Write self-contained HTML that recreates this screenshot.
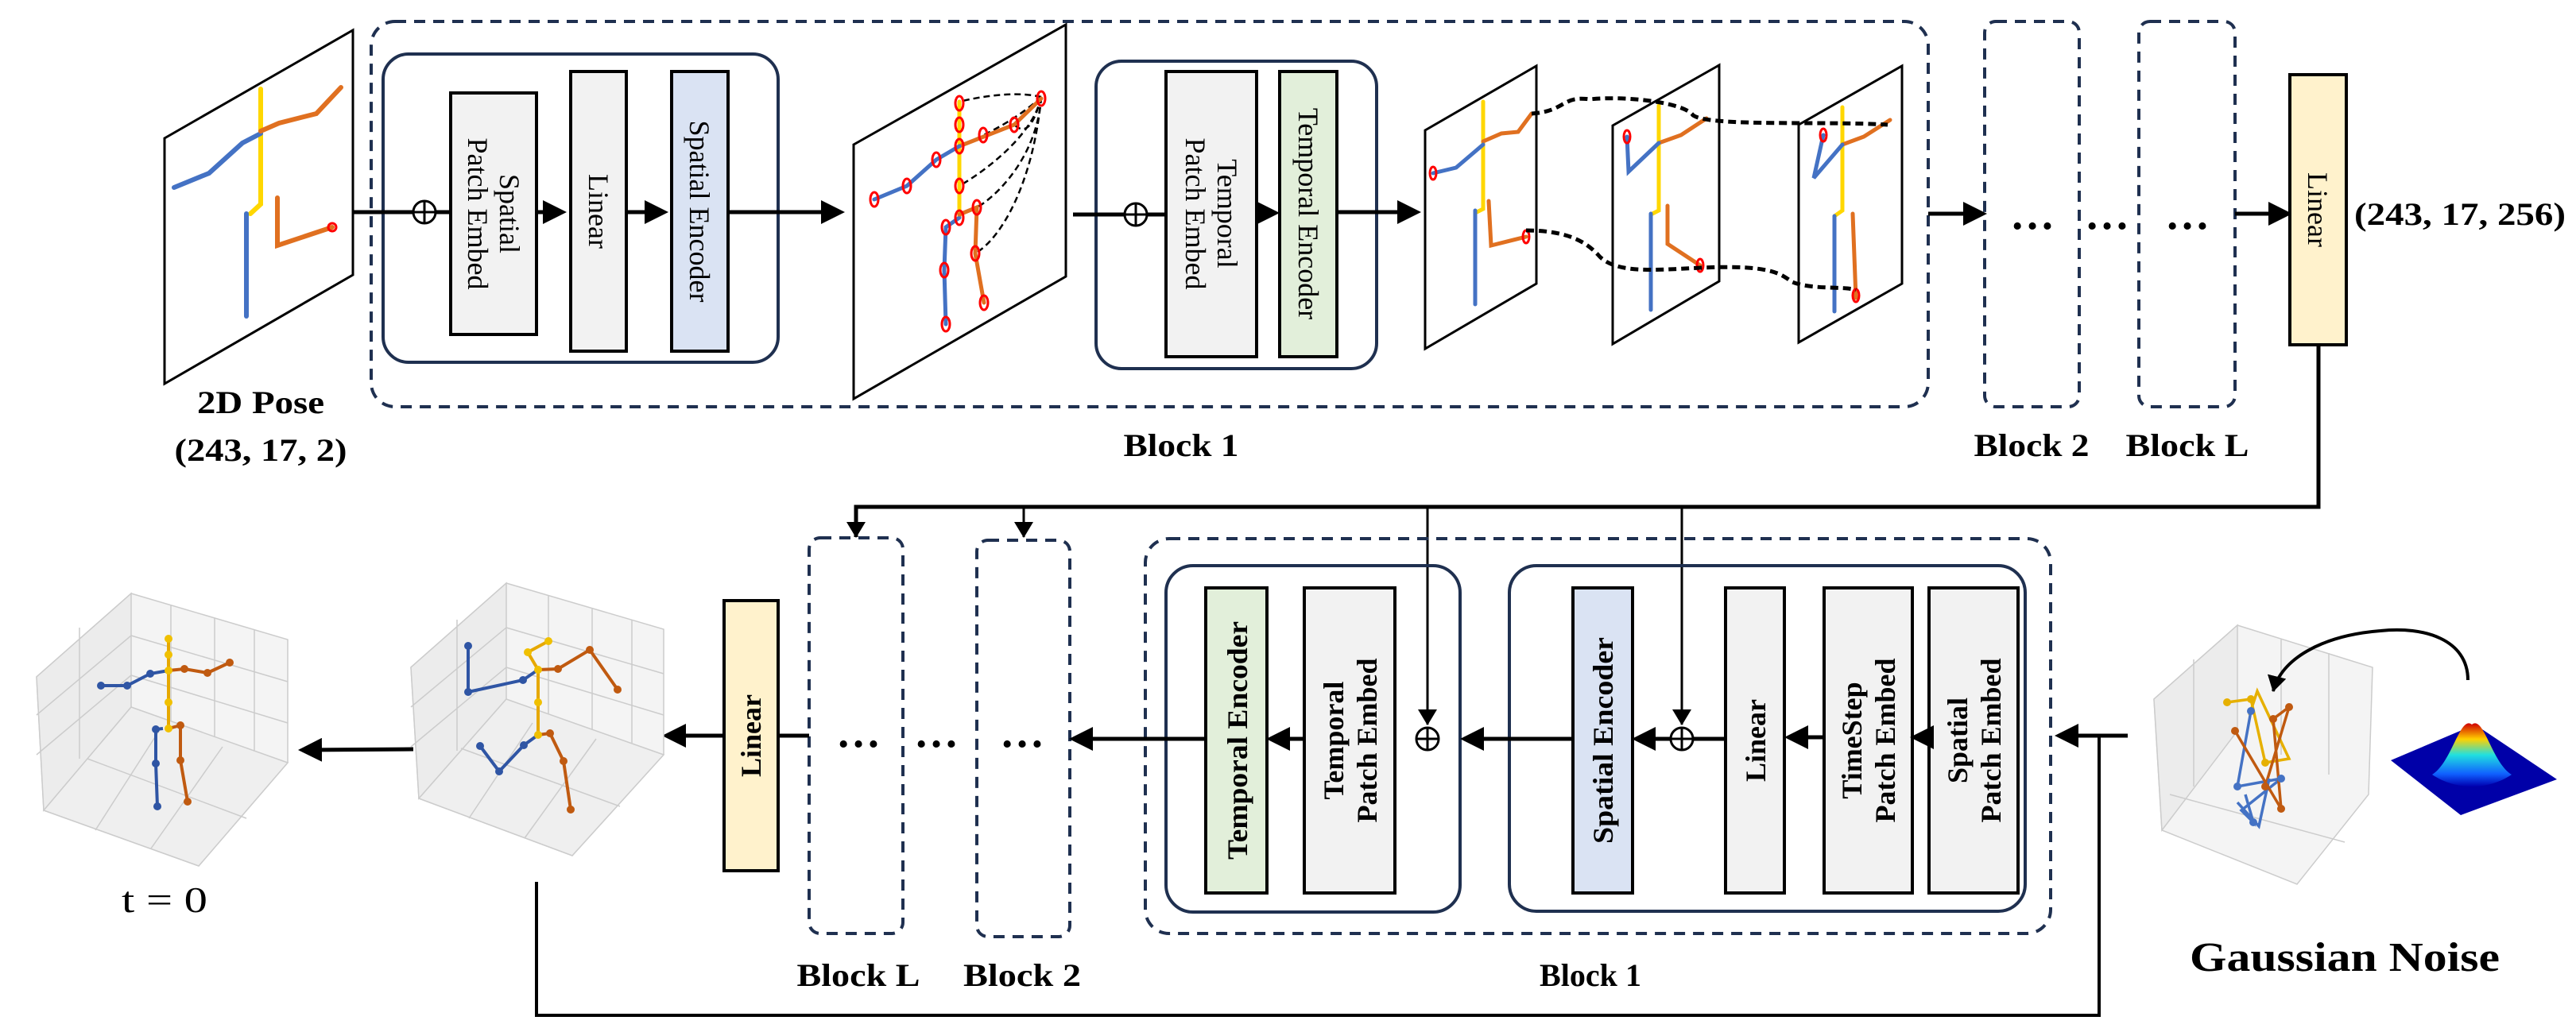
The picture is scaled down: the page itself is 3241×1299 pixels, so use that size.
<!DOCTYPE html>
<html><head><meta charset="utf-8"><style>
html,body{margin:0;padding:0;background:#fff;}
svg{display:block;}
text{font-family:"Liberation Serif",serif;}
</style></head><body>
<svg width="3241" height="1299" viewBox="0 0 3241 1299" xmlns="http://www.w3.org/2000/svg">
<defs>
<marker id="ah" markerWidth="6" markerHeight="6" refX="5" refY="3" orient="auto" markerUnits="strokeWidth">
<path d="M0,0 L6,3 L0,6 Z" fill="#000"/></marker>
<marker id="ahs" markerWidth="20" markerHeight="24" refX="19" refY="12" orient="auto" markerUnits="userSpaceOnUse">
<path d="M0,0 L20,12 L0,24 Z" fill="#000"/></marker>
<linearGradient id="gg" x1="0" y1="0" x2="0" y2="1">
<stop offset="0" stop-color="#d00000"/><stop offset="0.25" stop-color="#ffd000"/><stop offset="0.5" stop-color="#20e0e0"/><stop offset="0.8" stop-color="#1060ff"/><stop offset="1" stop-color="#0000b0"/></linearGradient>
</defs>

<!-- ===== TOP ROW ===== -->
<rect x="467" y="27" width="1959" height="485" rx="30" fill="none" stroke="#1f3050" stroke-width="4" stroke-dasharray="14 10"/>
<rect x="2497" y="27" width="119" height="485" rx="14" fill="none" stroke="#1f3050" stroke-width="4" stroke-dasharray="14 10"/>
<rect x="2691" y="27" width="121" height="485" rx="14" fill="none" stroke="#1f3050" stroke-width="4" stroke-dasharray="14 10"/>
<rect x="482" y="68" width="497" height="388" rx="32" fill="none" stroke="#1f3050" stroke-width="4"/>
<rect x="1379" y="77" width="353" height="387" rx="32" fill="none" stroke="#1f3050" stroke-width="4"/>

<polygon points="207,174 444,38 444,346 207,483" fill="#fff" stroke="#000" stroke-width="3"/>
<g stroke-linecap="round" fill="none" stroke-width="6">
<polyline points="328,112 328,257 315,269" stroke="#ffd700"/>
<polyline points="328,168 305,180 263,218 219,236" stroke="#4472c4"/>
<polyline points="328,165 351,155 398,143 429,110" stroke="#e07020"/>
<polyline points="310,269 310,398" stroke="#4472c4"/>
<polyline points="349,249 349,309 418,286" stroke="#e07020"/>
</g>
<circle cx="418" cy="286" r="5" fill="none" stroke="#f00" stroke-width="3"/>

<line x1="444" y1="267" x2="567" y2="267" stroke="#000" stroke-width="5"/>
<circle cx="534" cy="267" r="14" fill="#fff" stroke="#000" stroke-width="3"/>
<line x1="520" y1="267" x2="548" y2="267" stroke="#000" stroke-width="3"/>
<line x1="534" y1="253" x2="534" y2="281" stroke="#000" stroke-width="3"/>

<rect x="567" y="117" width="108" height="304" fill="#f2f2f2" stroke="#000" stroke-width="4"/>
<text transform="rotate(90 621 269)" x="621" y="269" text-anchor="middle" font-size="36"><tspan x="621" dy="-8">Spatial</tspan><tspan x="621" dy="40">Patch Embed</tspan></text>
<rect x="718" y="90" width="70" height="352" fill="#f2f2f2" stroke="#000" stroke-width="4"/>
<text transform="rotate(90 753 266)" x="753" y="278" text-anchor="middle" font-size="36">Linear</text>
<rect x="845" y="90" width="71" height="352" fill="#dae3f3" stroke="#000" stroke-width="4"/>
<text transform="rotate(90 880 266)" x="880" y="278" text-anchor="middle" font-size="36">Spatial Encoder</text>
<g stroke="#000" stroke-width="5">
<line x1="675" y1="267" x2="708" y2="267" marker-end="url(#ah)"/>
<line x1="788" y1="267" x2="836" y2="267" marker-end="url(#ah)"/>
<line x1="916" y1="267" x2="1058" y2="267" marker-end="url(#ah)"/>
</g>

<polygon points="1074,182 1341,31 1341,348 1074,502" fill="#fff" stroke="#000" stroke-width="3"/>
<g stroke="#000" stroke-width="2.5" fill="none" stroke-dasharray="8 5">
<path d="M1310,122 C1280,115 1240,120 1207,128"/>
<path d="M1310,122 C1280,150 1240,170 1207,184"/>
<path d="M1310,122 C1300,170 1240,215 1207,234"/>
<path d="M1310,122 C1305,200 1250,250 1229,261"/>
<path d="M1310,122 C1300,230 1260,300 1227,319"/>
<path d="M1310,122 C1300,160 1290,170 1276,157"/>
</g>
<g stroke-linecap="round" fill="none" stroke-width="5">
<polyline points="1207,128 1207,274" stroke="#ffd700"/>
<polyline points="1207,184 1276,157 1310,124" stroke="#e07020"/>
<polyline points="1207,184 1178,201 1141,234 1100,251" stroke="#4472c4"/>
<polyline points="1207,274 1190,286 1188,340 1190,408" stroke="#4472c4"/>
<polyline points="1207,270 1229,261 1227,319 1238,381" stroke="#e07020"/>
</g>
<g fill="none" stroke="#f00" stroke-width="3">
<ellipse cx="1207" cy="130" rx="5" ry="9"/><ellipse cx="1207" cy="157" rx="5" ry="9"/><ellipse cx="1207" cy="184" rx="5" ry="9"/><ellipse cx="1207" cy="234" rx="5" ry="9"/><ellipse cx="1207" cy="274" rx="5" ry="9"/>
<ellipse cx="1237" cy="170" rx="5" ry="9"/><ellipse cx="1276" cy="157" rx="5" ry="9"/><ellipse cx="1310" cy="124" rx="5" ry="9"/>
<ellipse cx="1178" cy="201" rx="5" ry="9"/><ellipse cx="1141" cy="234" rx="5" ry="9"/><ellipse cx="1100" cy="251" rx="5" ry="9"/>
<ellipse cx="1190" cy="286" rx="5" ry="9"/><ellipse cx="1188" cy="340" rx="5" ry="9"/><ellipse cx="1190" cy="408" rx="5" ry="9"/>
<ellipse cx="1229" cy="261" rx="5" ry="9"/><ellipse cx="1227" cy="319" rx="5" ry="9"/><ellipse cx="1238" cy="381" rx="5" ry="9"/>
</g>

<line x1="1350" y1="270" x2="1467" y2="270" stroke="#000" stroke-width="5"/>
<circle cx="1429" cy="270" r="14" fill="#fff" stroke="#000" stroke-width="3"/>
<line x1="1415" y1="270" x2="1443" y2="270" stroke="#000" stroke-width="3"/>
<line x1="1429" y1="256" x2="1429" y2="284" stroke="#000" stroke-width="3"/>
<rect x="1467" y="90" width="114" height="359" fill="#f2f2f2" stroke="#000" stroke-width="4"/>
<text transform="rotate(90 1524 269)" x="1524" y="269" text-anchor="middle" font-size="36"><tspan x="1524" dy="-8">Temporal</tspan><tspan x="1524" dy="40">Patch Embed</tspan></text>
<rect x="1610" y="90" width="72" height="359" fill="#e2efda" stroke="#000" stroke-width="4"/>
<text transform="rotate(90 1646 269)" x="1646" y="281" text-anchor="middle" font-size="36">Temporal Encoder</text>
<g stroke="#000" stroke-width="5">
<line x1="1581" y1="268" x2="1605" y2="268" marker-end="url(#ah)"/>
<line x1="1682" y1="267" x2="1783" y2="267" marker-end="url(#ah)"/>
</g>

<polygon points="1793,164 1933,83 1933,357 1793,439" fill="#fff" stroke="#000" stroke-width="3"/>
<polygon points="2029,158 2163,82 2163,354 2029,433" fill="#fff" stroke="#000" stroke-width="3"/>
<polygon points="2263,157 2393,83 2393,357 2263,431" fill="#fff" stroke="#000" stroke-width="3"/>
<g stroke-linecap="round" fill="none" stroke-width="5">
<polyline points="1866,128 1866,263 1856,268" stroke="#ffd700"/>
<polyline points="1866,178 1889,168 1910,166 1927,143" stroke="#e07020"/>
<polyline points="1866,182 1832,211 1803,218" stroke="#4472c4"/>
<polyline points="1856,265 1856,383" stroke="#4472c4"/>
<polyline points="1873,253 1876,309 1920,298" stroke="#e07020"/>
<polyline points="2087,133 2087,265 2077,270" stroke="#ffd700"/>
<polyline points="2087,180 2115,170 2147,149" stroke="#e07020"/>
<polyline points="2087,180 2049,216 2047,172" stroke="#4472c4"/>
<polyline points="2077,269 2077,390" stroke="#4472c4"/>
<polyline points="2098,259 2098,307 2139,334" stroke="#e07020"/>
<polyline points="2318,135 2318,265 2308,272" stroke="#ffd700"/>
<polyline points="2318,182 2345,172 2378,151" stroke="#e07020"/>
<polyline points="2318,182 2282,224 2294,170" stroke="#4472c4"/>
<polyline points="2308,272 2308,392" stroke="#4472c4"/>
<polyline points="2331,269 2335,375" stroke="#e07020"/>
</g>
<g fill="none" stroke="#f00" stroke-width="3">
<ellipse cx="1803" cy="218" rx="4" ry="8"/><ellipse cx="1920" cy="298" rx="4" ry="8"/>
<ellipse cx="2047" cy="172" rx="4" ry="8"/><ellipse cx="2139" cy="334" rx="4" ry="8"/>
<ellipse cx="2294" cy="170" rx="4" ry="8"/><ellipse cx="2335" cy="372" rx="4" ry="8"/>
</g>
<g stroke="#000" stroke-width="5" fill="none" stroke-dasharray="10 6">
<path d="M1927,143 C1970,140 1965,120 2000,125 C2050,120 2120,130 2130,145 C2150,160 2300,152 2375,157"/>
<path d="M1920,290 C1980,290 2000,310 2010,320 C2030,345 2080,340 2140,337 C2230,333 2240,345 2255,355 C2280,365 2320,360 2335,365"/>
</g>

<g stroke="#000" stroke-width="5">
<line x1="2426" y1="269" x2="2495" y2="269" marker-end="url(#ah)"/>
<line x1="2812" y1="269" x2="2879" y2="269" marker-end="url(#ah)"/>
</g>
<g font-size="56" font-weight="bold" text-anchor="middle">
<text x="2557" y="288">…</text><text x="2651" y="288">…</text><text x="2752" y="288">…</text>
</g>
<rect x="2881" y="94" width="71" height="340" fill="#fff2cc" stroke="#000" stroke-width="4"/>
<text transform="rotate(90 2916 264)" x="2916" y="276" text-anchor="middle" font-size="36">Linear</text>
<text x="2962" y="283" font-size="40" font-weight="bold" textLength="266" lengthAdjust="spacingAndGlyphs">(243, 17, 256)</text>

<g font-weight="bold" font-size="40" text-anchor="middle">
<text x="328" y="520" textLength="160" lengthAdjust="spacingAndGlyphs">2D Pose</text>
<text x="328" y="580" textLength="217" lengthAdjust="spacingAndGlyphs">(243, 17, 2)</text>
<text x="1486" y="574" textLength="145" lengthAdjust="spacingAndGlyphs">Block 1</text>
<text x="2556" y="574" textLength="145" lengthAdjust="spacingAndGlyphs">Block 2</text>
<text x="2752" y="574" textLength="155" lengthAdjust="spacingAndGlyphs">Block L</text>
</g>

<g stroke="#000" fill="none">
<polyline points="2917,434 2917,638 1077,638 1077,676" stroke-width="5" marker-end="url(#ahs)"/>
<line x1="1288" y1="638" x2="1288" y2="676" stroke-width="3" marker-end="url(#ahs)"/>
<line x1="1796" y1="638" x2="1796" y2="912" stroke-width="3" marker-end="url(#ahs)"/>
<line x1="2116" y1="638" x2="2116" y2="912" stroke-width="3" marker-end="url(#ahs)"/>
</g>

<!-- ===== BOTTOM ROW ===== -->
<rect x="1441" y="678" width="1139" height="497" rx="30" fill="none" stroke="#1f3050" stroke-width="4" stroke-dasharray="14 10"/>
<rect x="1018" y="677" width="118" height="498" rx="14" fill="none" stroke="#1f3050" stroke-width="4" stroke-dasharray="14 10"/>
<rect x="1229" y="680" width="117" height="499" rx="14" fill="none" stroke="#1f3050" stroke-width="4" stroke-dasharray="14 10"/>
<rect x="1467" y="712" width="370" height="436" rx="34" fill="none" stroke="#1f3050" stroke-width="4"/>
<rect x="1899" y="712" width="649" height="435" rx="34" fill="none" stroke="#1f3050" stroke-width="4"/>

<g font-weight="bold" font-size="36">
<rect x="1517" y="740" width="77" height="384" fill="#e2efda" stroke="#000" stroke-width="4"/>
<text transform="rotate(-90 1556 932)" x="1556" y="945" text-anchor="middle" textLength="300" lengthAdjust="spacingAndGlyphs">Temporal Encoder</text>
<rect x="1641" y="740" width="114" height="384" fill="#f2f2f2" stroke="#000" stroke-width="4"/>
<text transform="rotate(-90 1698 932)" x="1698" y="932" text-anchor="middle"><tspan x="1698" dy="-8">Temporal</tspan><tspan x="1698" dy="42">Patch Embed</tspan></text>
<rect x="1979" y="740" width="75" height="384" fill="#dae3f3" stroke="#000" stroke-width="4"/>
<text transform="rotate(-90 2016 932)" x="2016" y="945" text-anchor="middle" textLength="260" lengthAdjust="spacingAndGlyphs">Spatial Encoder</text>
<rect x="2171" y="740" width="74" height="384" fill="#f2f2f2" stroke="#000" stroke-width="4"/>
<text transform="rotate(-90 2208 932)" x="2208" y="945" text-anchor="middle">Linear</text>
<rect x="2295" y="740" width="111" height="384" fill="#f2f2f2" stroke="#000" stroke-width="4"/>
<text transform="rotate(-90 2350 932)" x="2350" y="932" text-anchor="middle"><tspan x="2350" dy="-8">TimeStep</tspan><tspan x="2350" dy="42">Patch Embed</tspan></text>
<rect x="2427" y="740" width="112" height="384" fill="#f2f2f2" stroke="#000" stroke-width="4"/>
<text transform="rotate(-90 2483 932)" x="2483" y="932" text-anchor="middle"><tspan x="2483" dy="-8">Spatial</tspan><tspan x="2483" dy="42">Patch Embed</tspan></text>
</g>

<g stroke="#000" stroke-width="5" fill="none">
<line x1="2677" y1="926" x2="2590" y2="926" marker-end="url(#ah)"/>
<line x1="2427" y1="928" x2="2408" y2="928" marker-end="url(#ah)"/>
<line x1="2295" y1="928" x2="2250" y2="928" marker-end="url(#ah)"/>
<line x1="2171" y1="930" x2="2058" y2="930" marker-end="url(#ah)"/>
<line x1="1979" y1="930" x2="1842" y2="930" marker-end="url(#ah)"/>
<line x1="1641" y1="930" x2="1598" y2="930" marker-end="url(#ah)"/>
<line x1="1517" y1="930" x2="1350" y2="930" marker-end="url(#ah)"/>
<line x1="979" y1="926" x2="1018" y2="926"/>
<line x1="911" y1="926" x2="838" y2="926" marker-end="url(#ah)"/>
<line x1="520" y1="943" x2="380" y2="944" marker-end="url(#ah)"/>
<polyline points="675,1110 675,1278 2641,1278 2641,926" stroke-width="4"/>
</g>
<g fill="#fff" stroke="#000" stroke-width="3">
<circle cx="1796" cy="930" r="14"/><circle cx="2116" cy="930" r="14"/>
</g>
<g stroke="#000" stroke-width="3">
<line x1="1782" y1="930" x2="1810" y2="930"/><line x1="1796" y1="916" x2="1796" y2="944"/>
<line x1="2102" y1="930" x2="2130" y2="930"/><line x1="2116" y1="916" x2="2116" y2="944"/>
</g>
<g font-size="56" font-weight="bold" text-anchor="middle">
<text x="1080" y="940">…</text><text x="1178" y="940">…</text><text x="1286" y="940">…</text>
</g>
<rect x="911" y="756" width="68" height="340" fill="#fff2cc" stroke="#000" stroke-width="4"/>
<text transform="rotate(-90 945 926)" x="945" y="938" text-anchor="middle" font-size="36" font-weight="bold">Linear</text>

<g stroke="#ccc" stroke-width="1.5">
<polygon points="165,747 362,805 362,960 250,1090 55,1020 46,852" fill="#f4f4f4"/>
<polygon points="165,747 165,890 55,1020 46,852" fill="#ececec"/>
<polygon points="165,890 362,960 250,1090 55,1020" fill="#efefef"/>
<line x1="100" y1="790" x2="100" y2="955"/><line x1="215" y1="762" x2="215" y2="908"/><line x1="270" y1="778" x2="270" y2="928"/><line x1="320" y1="793" x2="320" y2="945"/>
<line x1="46" y1="900" x2="165" y2="800"/><line x1="46" y1="950" x2="165" y2="850"/>
<line x1="165" y1="800" x2="362" y2="858"/><line x1="165" y1="850" x2="362" y2="910"/>
<line x1="110" y1="955" x2="310" y2="1030"/><line x1="200" y1="920" x2="120" y2="1045"/><line x1="280" y1="940" x2="190" y2="1068"/>
</g>
<g stroke-width="4" fill="none">
<polyline points="212,804 212,917" stroke="#e6a800"/>
<polyline points="212,844 189,848 160,863 127,863" stroke="#2f55a4"/>
<polyline points="212,844 232,842 261,847 289,834" stroke="#c05a10"/>
<polyline points="205,917 196,918 196,961 198,1015" stroke="#2f55a4"/>
<polyline points="212,917 227,913 227,957 236,1009" stroke="#c05a10"/>
</g>
<g fill="#f0c000"><circle cx="212" cy="804" r="5"/><circle cx="212" cy="824" r="5"/><circle cx="212" cy="844" r="5"/><circle cx="212" cy="884" r="5"/><circle cx="212" cy="917" r="5"/></g>
<g fill="#2f55a4"><circle cx="189" cy="848" r="5"/><circle cx="160" cy="863" r="5"/><circle cx="127" cy="863" r="5"/><circle cx="196" cy="918" r="5"/><circle cx="196" cy="961" r="5"/><circle cx="198" cy="1015" r="5"/></g>
<g fill="#c05a10"><circle cx="232" cy="842" r="5"/><circle cx="261" cy="847" r="5"/><circle cx="289" cy="834" r="5"/><circle cx="227" cy="913" r="5"/><circle cx="227" cy="957" r="5"/><circle cx="236" cy="1009" r="5"/></g>
<text x="207" y="1148" text-anchor="middle" font-size="46" textLength="108" lengthAdjust="spacingAndGlyphs">t = 0</text>

<g stroke="#ccc" stroke-width="1.5">
<polygon points="637,734 835,792 835,950 720,1077 527,1005 517,840" fill="#f4f4f4"/>
<polygon points="637,734 637,880 527,1005 517,840" fill="#ececec"/>
<polygon points="637,880 835,950 720,1077 527,1005" fill="#efefef"/>
<line x1="575" y1="780" x2="575" y2="945"/><line x1="690" y1="750" x2="690" y2="898"/><line x1="745" y1="765" x2="745" y2="918"/><line x1="795" y1="780" x2="795" y2="935"/>
<line x1="517" y1="890" x2="637" y2="790"/><line x1="517" y1="940" x2="637" y2="840"/>
<line x1="637" y1="790" x2="835" y2="848"/><line x1="637" y1="840" x2="835" y2="900"/>
<line x1="580" y1="942" x2="780" y2="1015"/><line x1="670" y1="910" x2="590" y2="1030"/><line x1="750" y1="930" x2="660" y2="1055"/>
</g>
<g stroke-width="4" fill="none">
<polyline points="690,807 664,821 677,843 677,925" stroke="#e6a800"/>
<polyline points="677,843 658,856 589,871 589,813" stroke="#2f55a4"/>
<polyline points="677,843 702,842 742,818 777,868" stroke="#c05a10"/>
<polyline points="677,925 659,938 628,971 604,939" stroke="#2f55a4"/>
<polyline points="677,925 692,923 709,958 718,1019" stroke="#c05a10"/>
</g>
<g fill="#f0c000"><circle cx="690" cy="807" r="5"/><circle cx="664" cy="821" r="5"/><circle cx="677" cy="843" r="5"/><circle cx="677" cy="884" r="5"/><circle cx="677" cy="925" r="5"/></g>
<g fill="#2f55a4"><circle cx="658" cy="856" r="5"/><circle cx="589" cy="871" r="5"/><circle cx="589" cy="813" r="5"/><circle cx="659" cy="938" r="5"/><circle cx="628" cy="971" r="5"/><circle cx="604" cy="939" r="5"/></g>
<g fill="#c05a10"><circle cx="702" cy="842" r="5"/><circle cx="742" cy="818" r="5"/><circle cx="777" cy="868" r="5"/><circle cx="692" cy="923" r="5"/><circle cx="709" cy="958" r="5"/><circle cx="718" cy="1019" r="5"/></g>

<g stroke="#ccc" stroke-width="1.5">
<polygon points="2815,787 2985,840 2980,1000 2890,1113 2720,1045 2710,880" fill="#f4f4f4"/>
<polygon points="2815,787 2815,920 2720,1045 2710,880" fill="#ececec"/>
<line x1="2760" y1="830" x2="2760" y2="990"/><line x1="2870" y1="805" x2="2870" y2="950"/><line x1="2930" y1="822" x2="2930" y2="975"/>
<line x1="2730" y1="1000" x2="2950" y2="1060"/>
</g>
<g stroke-width="3.5" fill="none">
<polyline points="2802,884 2832,880 2850,960 2880,955 2840,870 2830,900" stroke="#e6b000"/>
<polyline points="2832,895 2815,990 2870,980 2820,1020 2835,1035 2825,1000" stroke="#4472c4"/>
<polyline points="2812,920 2870,1018 2860,905 2880,890 2850,990" stroke="#c05a10"/>
<polyline points="2855,980 2842,1040 2815,1010" stroke="#4472c4"/>
</g>
<g fill="#c05a10"><circle cx="2812" cy="920" r="5"/><circle cx="2870" cy="1018" r="5"/><circle cx="2860" cy="905" r="5"/><circle cx="2880" cy="890" r="5"/><circle cx="2850" cy="990" r="5"/></g>
<g fill="#4472c4"><circle cx="2832" cy="895" r="5"/><circle cx="2815" cy="990" r="5"/><circle cx="2870" cy="980" r="5"/><circle cx="2835" cy="1035" r="5"/></g>
<g fill="#e6b000"><circle cx="2802" cy="884" r="5"/><circle cx="2832" cy="880" r="5"/><circle cx="2850" cy="960" r="5"/></g>

<polygon points="3008,957 3114,912 3217,981 3096,1026" fill="#0000a8"/>
<path d="M3060,975 C3085,960 3095,900 3110,912 C3125,900 3135,960 3160,975 C3130,995 3090,995 3060,975 Z" fill="url(#gg)"/>
<path d="M3105,856 C3105,805 3050,788 2995,794 C2920,800 2870,830 2860,870" fill="none" stroke="#000" stroke-width="4" marker-end="url(#ahs)"/>

<g font-weight="bold" font-size="40" text-anchor="middle">
<text x="1080" y="1241" textLength="155" lengthAdjust="spacingAndGlyphs">Block L</text>
<text x="1286" y="1241" textLength="148" lengthAdjust="spacingAndGlyphs">Block 2</text>
<text x="2001" y="1241" textLength="128" lengthAdjust="spacingAndGlyphs">Block 1</text>
<text x="2950" y="1222" font-size="52" textLength="390" lengthAdjust="spacingAndGlyphs">Gaussian Noise</text>
</g>
</svg>
</body></html>
